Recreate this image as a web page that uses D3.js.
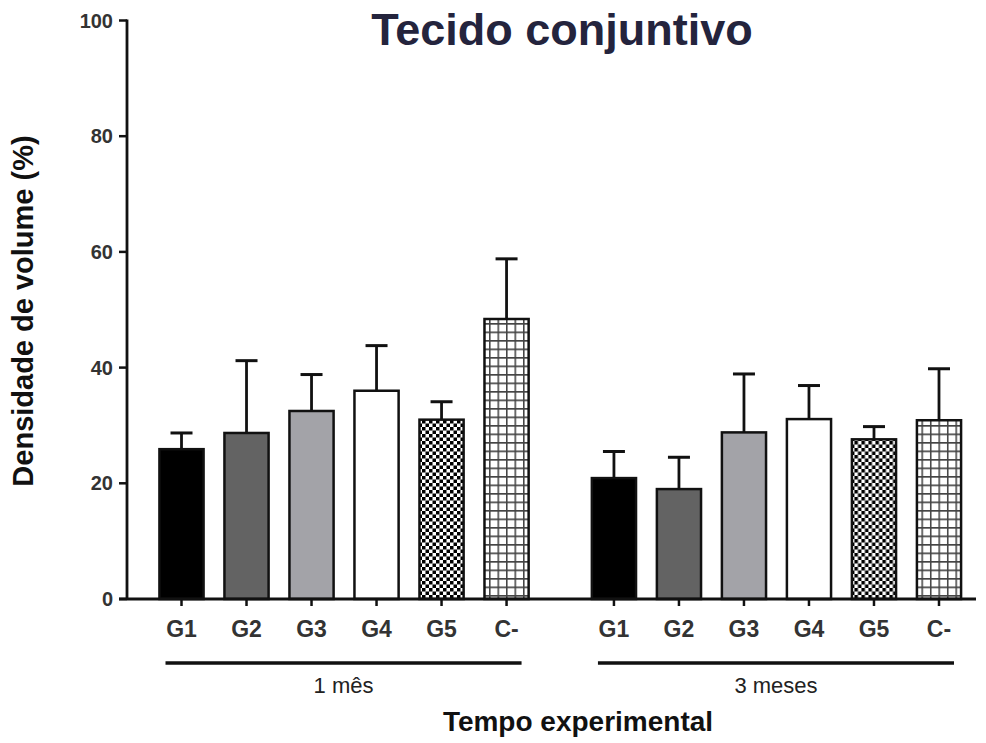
<!DOCTYPE html>
<html>
<head>
<meta charset="utf-8">
<script src="https://cdn.jsdelivr.net/npm/d3@7"></script>
<style>
  html, body { margin: 0; padding: 0; background: #fff; }
  svg { display: block; font-family: "Liberation Sans", Arial, Helvetica, sans-serif; }
</style>
</head>
<body>
<div id="chart"></div>
<script>
// ── Data ──
const groups     = ["1 mês", "3 meses"];
const categories = ["G1", "G2", "G3", "G4", "G5", "C-"];
const means      = [
  [25.9, 28.7, 32.5, 36.0, 31.0, 48.4],   // 1 mês
  [20.9, 19.0, 28.8, 31.1, 27.6, 30.9]    // 3 meses
];
const errors     = [
  [2.8, 12.5, 6.3, 7.8, 3.1, 10.4],
  [4.6, 5.5, 10.1, 5.8, 2.2, 8.9]
];
const yTicks     = [0, 20, 40, 60, 80, 100];
const fills      = ["#000000", "#636363", "#a3a3a8", "#ffffff", "url(#checker)", "url(#grid)"];

const W = 986, H = 743;
const FONT_COLOR = "#333";

const svg = d3.select("#chart").append("svg")
  .attr("width", W).attr("height", H);

// ── Patterns ──
const defs = svg.append("defs");

const checker = defs.append("pattern")
  .attr("id", "checker").attr("patternUnits", "userSpaceOnUse")
  .attr("width", 7).attr("height", 7);
checker.append("rect").attr("width", 7).attr("height", 7).attr("fill", "#fff");
checker.append("rect").attr("x", 0).attr("y", 0).attr("width", 3.5).attr("height", 3.5).attr("fill", "#000");
checker.append("rect").attr("x", 3.5).attr("y", 3.5).attr("width", 3.5).attr("height", 3.5).attr("fill", "#000");

const grid = defs.append("pattern")
  .attr("id", "grid").attr("patternUnits", "userSpaceOnUse")
  .attr("width", 8.5).attr("height", 8.5);
grid.append("rect").attr("width", 8.5).attr("height", 8.5).attr("fill", "#fff");
grid.append("path")
  .attr("d", "M0,0.75H8.5M0.75,0V8.5")
  .attr("stroke", "#444").attr("stroke-width", 1.6);

// ── Scales ──
const y = d3.scaleLinear().domain([0, 100]).range([599, 20.5]);

const xGroup = d3.scaleBand()
  .domain(groups)
  .range([149, 971.5])
  .paddingInner(0.098)
  .paddingOuter(0);

const xCat = d3.scaleBand()
  .domain(categories)
  .range([0, xGroup.bandwidth()])
  .paddingInner(0.29)
  .paddingOuter(0.145);

// ── Bars & error bars ──
groups.forEach((g, gi) => {
  const gx = xGroup(g);
  const gG = svg.append("g").attr("transform", `translate(${gx},0)`);

  categories.forEach((c, ci) => {
    const v  = means[gi][ci];
    const e  = errors[gi][ci];
    const x0 = xCat(c);
    const cx = x0 + xCat.bandwidth() / 2;

    // error bar (upper only)
    gG.append("line")
      .attr("x1", cx).attr("x2", cx)
      .attr("y1", y(v)).attr("y2", y(v + e))
      .attr("stroke", "#111").attr("stroke-width", 2.8);
    gG.append("line")
      .attr("x1", cx - 11).attr("x2", cx + 11)
      .attr("y1", y(v + e)).attr("y2", y(v + e))
      .attr("stroke", "#111").attr("stroke-width", 3);

    gG.append("rect")
      .attr("x", x0 + 1).attr("y", y(v))
      .attr("width", xCat.bandwidth() - 2)
      .attr("height", y(0) - y(v))
      .attr("fill", fills[ci])
      .attr("stroke", "#111")
      .attr("stroke-width", 2.5);

    // x tick
    gG.append("line")
      .attr("x1", cx).attr("x2", cx)
      .attr("y1", y(0)).attr("y2", y(0) + 7)
      .attr("stroke", "#111").attr("stroke-width", 2.5);

    gG.append("text")
      .attr("x", cx).attr("y", 637)
      .attr("text-anchor", "middle")
      .style("font-size", "23px")
      .style("font-weight", "bold")
      .style("fill", FONT_COLOR)
      .text(c);
  });

  // group underline + label
  const half = xCat.bandwidth() / 2;
  const x1 = xCat(categories[0]) + half - 16;
  const x2 = xCat(categories[categories.length - 1]) + half + 15;
  gG.append("line")
    .attr("x1", x1).attr("x2", x2)
    .attr("y1", 663).attr("y2", 663)
    .attr("stroke", "#111").attr("stroke-width", 3.5);

  gG.append("text")
    .attr("x", (x1 + x2) / 2).attr("y", 693)
    .attr("text-anchor", "middle")
    .style("font-size", "22px")
    .style("fill", "#222")
    .text(g);
});

// ── Y axis ──
const yAxisG = svg.append("g").attr("transform", "translate(127,0)");
yAxisG.append("line")
  .attr("x1", 0).attr("x2", 0)
  .attr("y1", y(100) - 1).attr("y2", y(0))
  .attr("stroke", "#111").attr("stroke-width", 2.8);

yTicks.forEach(t => {
  yAxisG.append("line")
    .attr("x1", -8).attr("x2", 0)
    .attr("y1", y(t)).attr("y2", y(t))
    .attr("stroke", "#111").attr("stroke-width", 2.5);
  yAxisG.append("text")
    .attr("x", -14).attr("y", y(t) + 7)
    .attr("text-anchor", "end")
    .style("font-size", "20px")
    .style("font-weight", "bold")
    .style("fill", FONT_COLOR)
    .text(t);
});

// ── X axis line ──
svg.append("line")
  .attr("x1", 119).attr("x2", 976)
  .attr("y1", y(0)).attr("y2", y(0))
  .attr("stroke", "#111").attr("stroke-width", 2.8);

// ── Titles ──
svg.append("text")
  .attr("x", 562).attr("y", 45)
  .attr("text-anchor", "middle")
  .style("font-size", "45px")
  .style("font-weight", "bold")
  .style("fill", "#24243d")
  .text("Tecido conjuntivo");

svg.append("text")
  .attr("transform", "translate(33,311) rotate(-90)")
  .attr("text-anchor", "middle")
  .style("font-size", "29px")
  .style("font-weight", "bold")
  .style("fill", "#111")
  .text("Densidade de volume (%)");

svg.append("text")
  .attr("x", 578).attr("y", 731)
  .attr("text-anchor", "middle")
  .style("font-size", "28px")
  .style("font-weight", "bold")
  .style("fill", "#111")
  .text("Tempo experimental");
</script>
</body>
</html>
